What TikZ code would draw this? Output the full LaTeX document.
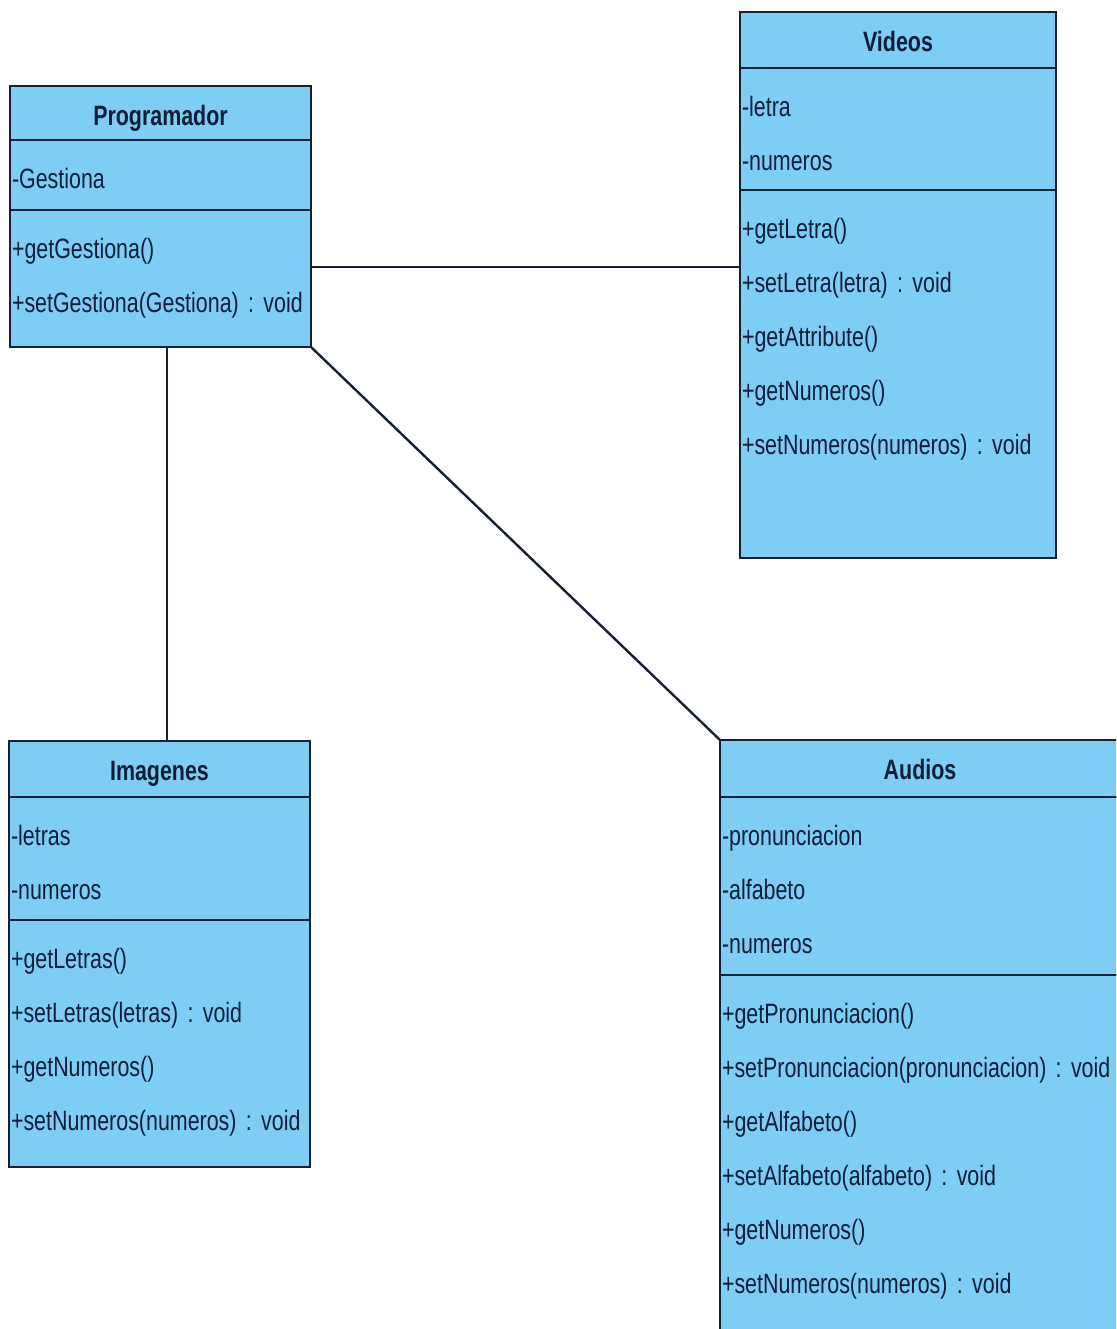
\documentclass[tikz,border=0pt]{standalone}
\usepackage{fontspec}
\setmainfont{Liberation Sans}[FakeStretch=0.765]
\frenchspacing
\usetikzlibrary{positioning}
\definecolor{umlfill}{RGB}{125,205,245}
\definecolor{umlline}{RGB}{22,32,52}
\definecolor{umltext}{RGB}{15,30,55}
\newcommand\umlfont{\fontsize{14pt}{27pt}\selectfont\setlength{\spaceskip}{2.4pt plus 1pt}}

\begin{document}
\begin{tikzpicture}[x=0.5pt, y=-0.5pt,
  part/.style={draw=umlline, fill=umlfill, line width=1.1pt, outer sep=0pt,
    inner xsep=1pt, inner ysep=0pt, text=umltext},
  classname/.style={part, font=\bfseries\fontsize{14pt}{27pt}\selectfont,
    align=center, text height=19.5pt},
  compartment/.style={part, font=\umlfont,
    text width=#1, align=left, text height=24pt},
  assoc/.style={draw=umlline, line width=1.2pt}]
  \useasboundingbox (0,0) rectangle (1116,1329);
  \clip (0,0) rectangle (1116,1329);
  \fill[white] (0,0) rectangle (1116,1329);

  \node[classname, minimum width=150.5pt, text depth=7.5pt, anchor=north west] (prog) at (10,86) {Programador};
  \node[compartment=148.5pt, text depth=11pt, below=0pt of prog] (prog-attr) {-Gestiona};
  \node[compartment=148.5pt, text depth=44.5pt, below=0pt of prog-attr] (prog-ops) {+getGestiona()\\+setGestiona(Gestiona) : void};

  \node[classname, minimum width=158pt, text depth=8.5pt, anchor=north west] (vid) at (740,12) {Videos};
  \node[compartment=156pt, text depth=37pt, below=0pt of vid] (vid-attr) {-letra\\-numeros};
  \node[compartment=156pt, text depth=160pt, below=0pt of vid-attr] (vid-ops) {+getLetra()\\+setLetra(letra) : void\\+getAttribute()\\+getNumeros()\\+setNumeros(numeros) : void};

  \node[classname, minimum width=200pt, text depth=9pt, anchor=north west] (aud) at (720,740) {Audios};
  \node[compartment=198pt, text depth=65pt, below=0pt of aud] (aud-attr) {-pronunciacion\\-alfabeto\\-numeros};
  \node[compartment=198pt, text depth=166pt, below=0pt of aud-attr] (aud-ops) {+getPronunciacion()\\+setPronunciacion(pronunciacion) : void\\+getAlfabeto()\\+setAlfabeto(alfabeto) : void\\+getNumeros()\\+setNumeros(numeros) : void};

  \node[classname, minimum width=150.5pt, text depth=8.5pt, anchor=north west] (img) at (9,741) {Imagenes};
  \node[compartment=148.5pt, text depth=37.5pt, below=0pt of img] (img-attr) {-letras\\-numeros};
  \node[compartment=148.5pt, text depth=99.5pt, below=0pt of img-attr] (img-ops) {+getLetras()\\+setLetras(letras) : void\\+getNumeros()\\+setNumeros(numeros) : void};

  \coordinate (pv) at ([yshift=5.75pt]prog-ops.east);
  \coordinate (pi) at ([xshift=3.25pt]prog-ops.south);
  \draw[assoc] (pv) -- (pv -| vid-ops.west);
  \draw[assoc] (pi) -- (pi |- img.north);
  \draw[assoc] (prog-ops.south east) -- (aud.north west);
\end{tikzpicture}
\end{document}
